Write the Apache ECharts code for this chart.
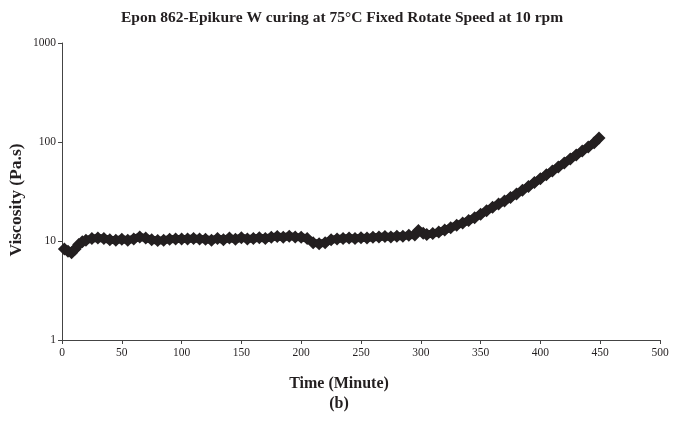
<!DOCTYPE html>
<html>
<head>
<meta charset="utf-8">
<script src="https://cdn.jsdelivr.net/npm/echarts@6/dist/echarts.min.js"></script>
<style>html,body{margin:0;padding:0;background:#fff}#c{width:674px;height:421px}</style>
</head>
<body>
<div id="c"></div>
<script>
var titleText = 'Epon 862-Epikure W curing at 75°C Fixed Rotate Speed at 10 rpm';
var xName = 'Time (Minute)';
var yName = 'Viscosity (Pa.s)';
var subLabel = '(b)';
var xTicks = [0, 50, 100, 150, 200, 250, 300, 350, 400, 450, 500];
var yTicks = [1, 10, 100, 1000];
var times = [2,5,8,11,14,17,20,25,30,35,40,45,50,55,60,65,70,75,80,85,90,95,100,105,110,115,120,125,130,135,140,145,150,155,160,165,170,175,180,185,190,195,200,205,210,215,220,225,230,235,240,245,250,255,260,265,270,275,280,285,290,295,298,302,305,310,315,320,325,330,335,340,345,350,355,360,365,370,375,380,385,390,395,400,405,410,415,420,425,430,435,440,445,449];
var viscosity = [8.3,7.9,7.6,8.3,9.2,9.8,10.2,10.6,10.7,10.6,10.3,10.2,10.4,10.2,10.5,11.0,10.7,10.3,10.1,10.2,10.4,10.5,10.5,10.5,10.6,10.5,10.4,10.2,10.6,10.3,10.7,10.4,10.8,10.5,10.6,10.8,10.6,10.9,11.1,10.9,11.2,11.0,10.9,10.6,9.6,9.4,9.6,10.3,10.5,10.6,10.7,10.6,10.8,10.7,10.9,11.0,11.1,11.0,11.2,11.2,11.4,11.5,12.8,12.0,11.6,11.9,12.3,12.9,13.6,14.4,15.2,16.1,17.2,18.6,20.2,21.9,23.6,25.4,27.5,29.9,32.6,35.6,38.9,42.6,46.6,51,56,61.5,67.5,74,81,89,98,110];

var seriesData = times.map(function(t, i){ return [t, viscosity[i]]; });
var serif = '"Liberation Serif", "DejaVu Serif", serif';
var ink = '#231f20';

var chart = echarts.init(document.getElementById('c'));
chart.setOption({
  backgroundColor: '#fff',
  animation: false,
  title: {
    text: titleText, left: 337, top: 5, textAlign: 'center',
    textStyle: { fontFamily: serif, fontWeight: 'bold', fontSize: 15.5, color: ink }
  },
  grid: { left: 62, right: 14, top: 43, bottom: 81, containLabel: false },
  xAxis: {
    type: 'value', min: 0, max: 500, interval: 50,
    axisLine: { onZero: false, lineStyle: { color: '#444', width: 1 } },
    axisTick: { show: true, length: 4, lineStyle: { color: '#444' } },
    axisLabel: { fontFamily: serif, fontSize: 11.5, color: ink, margin: 7,
      formatter: function(v){ return xTicks.indexOf(v) >= 0 ? String(v) : ''; } },
    splitLine: { show: false }
  },
  yAxis: {
    type: 'log', logBase: 10, min: 1, max: 1000,
    axisLine: { show: true, lineStyle: { color: '#444', width: 1 } },
    axisTick: { show: true, length: 4, lineStyle: { color: '#444' } },
    minorTick: { show: false },
    axisLabel: { fontFamily: serif, fontSize: 11.5, color: ink, margin: 6,
      formatter: function(v){ var r = Math.round(v); return yTicks.indexOf(r) >= 0 ? String(r) : ''; } },
    splitLine: { show: false }
  },
  graphic: [
    { type: 'text', x: 339, y: 384, style: { text: xName, font: 'bold 16px ' + serif, fill: ink, textAlign: 'center', textVerticalAlign: 'middle' } },
    { type: 'text', x: 339, y: 404, style: { text: subLabel, font: 'bold 16px ' + serif, fill: ink, textAlign: 'center', textVerticalAlign: 'middle' } },
    { type: 'text', x: 16, y: 200, rotation: Math.PI / 2, style: { text: yName, font: 'bold 17.5px ' + serif, fill: ink, textAlign: 'center', textVerticalAlign: 'middle' } }
  ],
  series: [{
    type: 'line',
    data: seriesData,
    symbol: 'diamond',
    symbolSize: 13,
    showAllSymbol: true,
    lineStyle: { color: ink, width: 8 },
    itemStyle: { color: ink },
    smooth: false
  }]
});
</script>
</body>
</html>
